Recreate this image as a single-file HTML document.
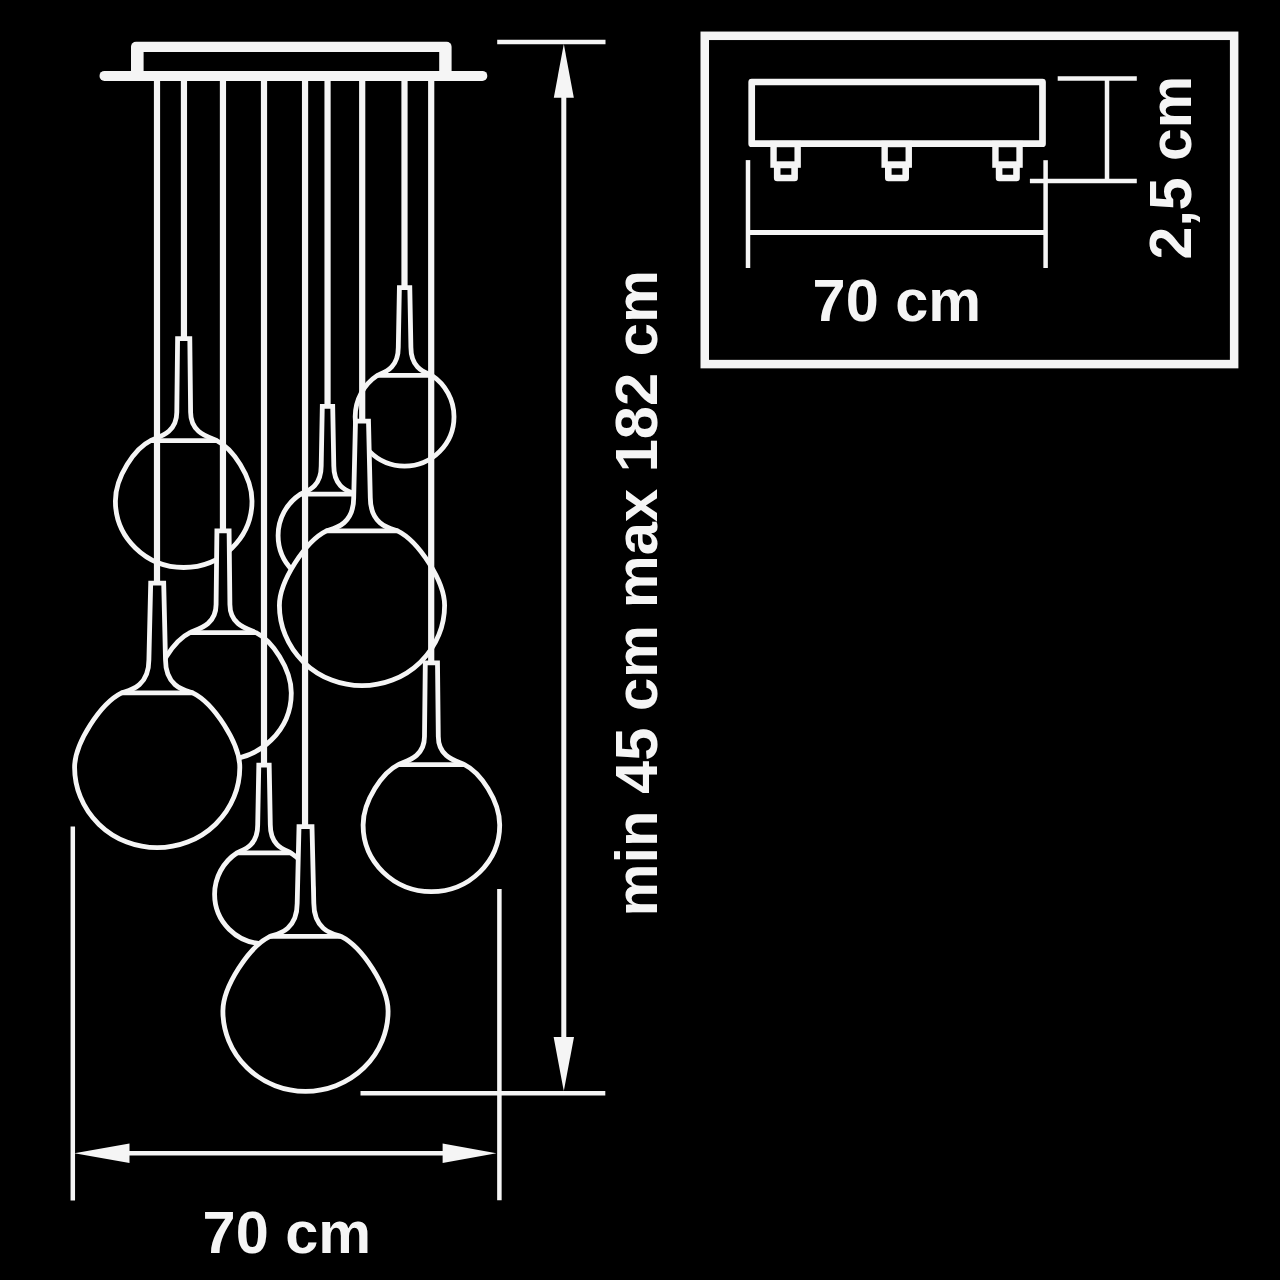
<!DOCTYPE html>
<html><head><meta charset="utf-8"><title>Pendant dimensions</title>
<style>html,body{margin:0;padding:0;background:#000;overflow:hidden;}svg{display:block;}</style></head>
<body>
<svg width="1280" height="1280" viewBox="0 0 1280 1280">
<rect width="1280" height="1280" fill="#000"/>
<rect x="180.85" y="76" width="6.2" height="261.30" fill="#f5f5f5"/>
<path d="M177.60,338.70 L176.80,412.30 C176.80,435.10 155.10,437.60 150.70,440.60 C134.95,448.19 115.40,476.63 115.40,500.90 A68.30,66.60 0 0 0 183.70,567.50 A68.30,66.60 0 0 0 252.00,500.90 C252.00,476.63 232.45,448.19 216.70,440.60 C212.30,437.60 190.60,435.10 190.60,412.30 L189.80,338.70Z" fill="#000" stroke="#f5f5f5" stroke-width="4.8" stroke-linejoin="miter"/>
<line x1="150.70" y1="440.60" x2="216.70" y2="440.60" stroke="#f5f5f5" stroke-width="4.8"/>
<rect x="401.40" y="76" width="6.2" height="210.20" fill="#f5f5f5"/>
<path d="M399.40,287.60 L398.30,347.20 C398.30,370.20 381.80,372.70 377.65,375.30 A49.40,49.40 0 0 0 355.20,416.70 A49.40,49.40 0 0 0 404.60,466.10 A49.40,49.40 0 0 0 454.00,416.70 A49.40,49.40 0 0 0 431.55,375.30 C427.40,372.70 410.90,370.20 410.90,347.20 L409.80,287.60Z" fill="#000" stroke="#f5f5f5" stroke-width="4.8" stroke-linejoin="miter"/>
<line x1="377.65" y1="375.30" x2="431.55" y2="375.30" stroke="#f5f5f5" stroke-width="4.8"/>
<rect x="324.45" y="76" width="6.2" height="329.00" fill="#f5f5f5"/>
<path d="M322.30,406.40 L321.20,466.00 C321.20,489.00 304.70,491.50 300.55,494.10 A49.40,49.40 0 0 0 278.10,535.50 A49.40,49.40 0 0 0 327.50,584.90 A49.40,49.40 0 0 0 376.90,535.50 A49.40,49.40 0 0 0 354.45,494.10 C350.30,491.50 333.80,489.00 333.80,466.00 L332.70,406.40Z" fill="#000" stroke="#f5f5f5" stroke-width="4.8" stroke-linejoin="miter"/>
<line x1="300.55" y1="494.10" x2="354.45" y2="494.10" stroke="#f5f5f5" stroke-width="4.8"/>
<rect x="219.85" y="76" width="6.2" height="453.40" fill="#f5f5f5"/>
<path d="M216.90,530.80 L216.10,604.40 C216.10,627.20 194.40,629.70 190.00,632.70 C174.25,640.29 154.70,668.73 154.70,693.00 A68.30,66.60 0 0 0 223.00,759.60 A68.30,66.60 0 0 0 291.30,693.00 C291.30,668.73 271.75,640.29 256.00,632.70 C251.60,629.70 229.90,627.20 229.90,604.40 L229.10,530.80Z" fill="#000" stroke="#f5f5f5" stroke-width="4.8" stroke-linejoin="miter"/>
<line x1="190.00" y1="632.70" x2="256.00" y2="632.70" stroke="#f5f5f5" stroke-width="4.8"/>
<rect x="359.10" y="76" width="6.2" height="343.70" fill="#f5f5f5"/>
<path d="M355.50,421.10 L353.70,497.70 C353.70,527.00 330.94,528.90 326.50,530.80 C305.33,541.23 279.40,581.25 279.40,605.40 A82.60,80.30 0 0 0 362.00,685.70 A82.60,80.30 0 0 0 444.60,605.40 C444.60,581.25 418.67,541.23 397.50,530.80 C393.06,528.90 370.30,527.00 370.30,497.70 L368.50,421.10Z" fill="#000" stroke="#f5f5f5" stroke-width="4.8" stroke-linejoin="miter"/>
<line x1="326.50" y1="530.80" x2="397.50" y2="530.80" stroke="#f5f5f5" stroke-width="4.8"/>
<rect x="153.90" y="76" width="6.2" height="505.70" fill="#f5f5f5"/>
<path d="M150.70,583.10 L148.90,659.70 C148.90,689.00 126.14,690.90 121.70,692.80 C100.53,703.23 74.60,743.25 74.60,767.40 A82.60,80.30 0 0 0 157.20,847.70 A82.60,80.30 0 0 0 239.80,767.40 C239.80,743.25 213.87,703.23 192.70,692.80 C188.26,690.90 165.50,689.00 165.50,659.70 L163.70,583.10Z" fill="#000" stroke="#f5f5f5" stroke-width="4.8" stroke-linejoin="miter"/>
<line x1="121.70" y1="692.80" x2="192.70" y2="692.80" stroke="#f5f5f5" stroke-width="4.8"/>
<rect x="260.90" y="76" width="6.2" height="687.80" fill="#f5f5f5"/>
<path d="M258.80,765.20 L257.70,824.80 C257.70,847.80 241.20,850.30 237.05,852.90 A49.40,49.40 0 0 0 214.60,894.30 A49.40,49.40 0 0 0 264.00,943.70 A49.40,49.40 0 0 0 313.40,894.30 A49.40,49.40 0 0 0 290.95,852.90 C286.80,850.30 270.30,847.80 270.30,824.80 L269.20,765.20Z" fill="#000" stroke="#f5f5f5" stroke-width="4.8" stroke-linejoin="miter"/>
<line x1="237.05" y1="852.90" x2="290.95" y2="852.90" stroke="#f5f5f5" stroke-width="4.8"/>
<rect x="428.10" y="76" width="6.2" height="585.40" fill="#f5f5f5"/>
<path d="M425.30,662.80 L424.50,736.40 C424.50,759.20 402.80,761.70 398.40,764.70 C382.65,772.29 363.10,800.73 363.10,825.00 A68.30,66.60 0 0 0 431.40,891.60 A68.30,66.60 0 0 0 499.70,825.00 C499.70,800.73 480.15,772.29 464.40,764.70 C460.00,761.70 438.30,759.20 438.30,736.40 L437.50,662.80Z" fill="#000" stroke="#f5f5f5" stroke-width="4.8" stroke-linejoin="miter"/>
<line x1="398.40" y1="764.70" x2="464.40" y2="764.70" stroke="#f5f5f5" stroke-width="4.8"/>
<rect x="301.95" y="76" width="6.2" height="749.30" fill="#f5f5f5"/>
<path d="M299.00,826.70 L297.20,903.30 C297.20,932.60 274.44,934.50 270.00,936.40 C248.83,946.83 222.90,986.85 222.90,1011.00 A82.60,80.30 0 0 0 305.50,1091.30 A82.60,80.30 0 0 0 388.10,1011.00 C388.10,986.85 362.17,946.83 341.00,936.40 C336.56,934.50 313.80,932.60 313.80,903.30 L312.00,826.70Z" fill="#000" stroke="#f5f5f5" stroke-width="4.8" stroke-linejoin="miter"/>
<line x1="270.00" y1="936.40" x2="341.00" y2="936.40" stroke="#f5f5f5" stroke-width="4.8"/>
<rect x="131" y="41.7" width="320.6" height="36" rx="5" fill="#f5f5f5"/>
<rect x="143.6" y="52" width="295.6" height="19" fill="#000"/>
<line x1="104.5" y1="75.9" x2="482.3" y2="75.9" stroke="#f5f5f5" stroke-width="10" stroke-linecap="round"/>
<line x1="72.8" y1="826.4" x2="72.8" y2="1200.5" stroke="#f5f5f5" stroke-width="4.5"/>
<line x1="499.4" y1="889" x2="499.4" y2="1200.3" stroke="#f5f5f5" stroke-width="4.5"/>
<line x1="128" y1="1153.3" x2="444" y2="1153.3" stroke="#f5f5f5" stroke-width="4.5"/>
<polygon points="74.4,1153.3 129.5,1143.5 129.5,1163.1" fill="#f5f5f5"/>
<polygon points="496.4,1153.3 442.6,1143.5 442.6,1163.1" fill="#f5f5f5"/>
<line x1="360.5" y1="1093.2" x2="605.3" y2="1093.2" stroke="#f5f5f5" stroke-width="4.5"/>
<line x1="497.2" y1="42" x2="605.5" y2="42" stroke="#f5f5f5" stroke-width="4.5"/>
<line x1="563.8" y1="96" x2="563.8" y2="1039" stroke="#f5f5f5" stroke-width="5"/>
<polygon points="563.8,44 553.8,97.7 573.8,97.7" fill="#f5f5f5"/>
<polygon points="563.8,1091 553.6,1037 574,1037" fill="#f5f5f5"/>
<text x="202.6" y="1253.0" font-family="Liberation Sans, sans-serif" font-weight="bold" font-size="60" fill="#f5f5f5" textLength="168.5" lengthAdjust="spacingAndGlyphs" text-anchor="start">70 cm</text>
<text x="656.6" y="916.6" font-family="Liberation Sans, sans-serif" font-weight="bold" font-size="60" fill="#f5f5f5" transform="rotate(-90 656.6 916.6)" textLength="646.6" lengthAdjust="spacingAndGlyphs" text-anchor="start">min 45 cm max 182 cm</text>
<rect x="704.75" y="35.8" width="529.4" height="328.3" fill="none" stroke="#f5f5f5" stroke-width="8.5"/>
<rect x="751.7" y="82" width="290.8" height="61.7" fill="none" stroke="#f5f5f5" stroke-width="6.7" stroke-linejoin="round"/>
<rect x="773.55" y="144" width="24.1" height="20.6" fill="none" stroke="#f5f5f5" stroke-width="6.4"/>
<rect x="777.20" y="165.0" width="17.4" height="13.0" fill="none" stroke="#f5f5f5" stroke-width="6.6" stroke-linejoin="round"/>
<rect x="884.65" y="144" width="24.1" height="20.6" fill="none" stroke="#f5f5f5" stroke-width="6.4"/>
<rect x="888.30" y="165.0" width="17.4" height="13.0" fill="none" stroke="#f5f5f5" stroke-width="6.6" stroke-linejoin="round"/>
<rect x="995.45" y="144" width="24.1" height="20.6" fill="none" stroke="#f5f5f5" stroke-width="6.4"/>
<rect x="999.10" y="165.0" width="17.4" height="13.0" fill="none" stroke="#f5f5f5" stroke-width="6.6" stroke-linejoin="round"/>
<line x1="748" y1="160.1" x2="748" y2="268" stroke="#f5f5f5" stroke-width="4.5"/>
<line x1="1045.6" y1="160.2" x2="1045.6" y2="268" stroke="#f5f5f5" stroke-width="4.5"/>
<line x1="748" y1="232.4" x2="1045.6" y2="232.4" stroke="#f5f5f5" stroke-width="5"/>
<line x1="1057.7" y1="78.5" x2="1136.8" y2="78.5" stroke="#f5f5f5" stroke-width="4.5"/>
<line x1="1029.9" y1="181" x2="1136.8" y2="181" stroke="#f5f5f5" stroke-width="4.5"/>
<line x1="1107" y1="78.5" x2="1107" y2="181" stroke="#f5f5f5" stroke-width="4.5"/>
<text x="812.6" y="320.6" font-family="Liberation Sans, sans-serif" font-weight="bold" font-size="60" fill="#f5f5f5" textLength="168.5" lengthAdjust="spacingAndGlyphs" text-anchor="start">70 cm</text>
<text x="1191.2" y="259.4" font-family="Liberation Sans, sans-serif" font-weight="bold" font-size="60" fill="#f5f5f5" transform="rotate(-90 1191.2 259.4)" textLength="183.6" lengthAdjust="spacingAndGlyphs" text-anchor="start">2,5 cm</text>
</svg>
</body></html>
